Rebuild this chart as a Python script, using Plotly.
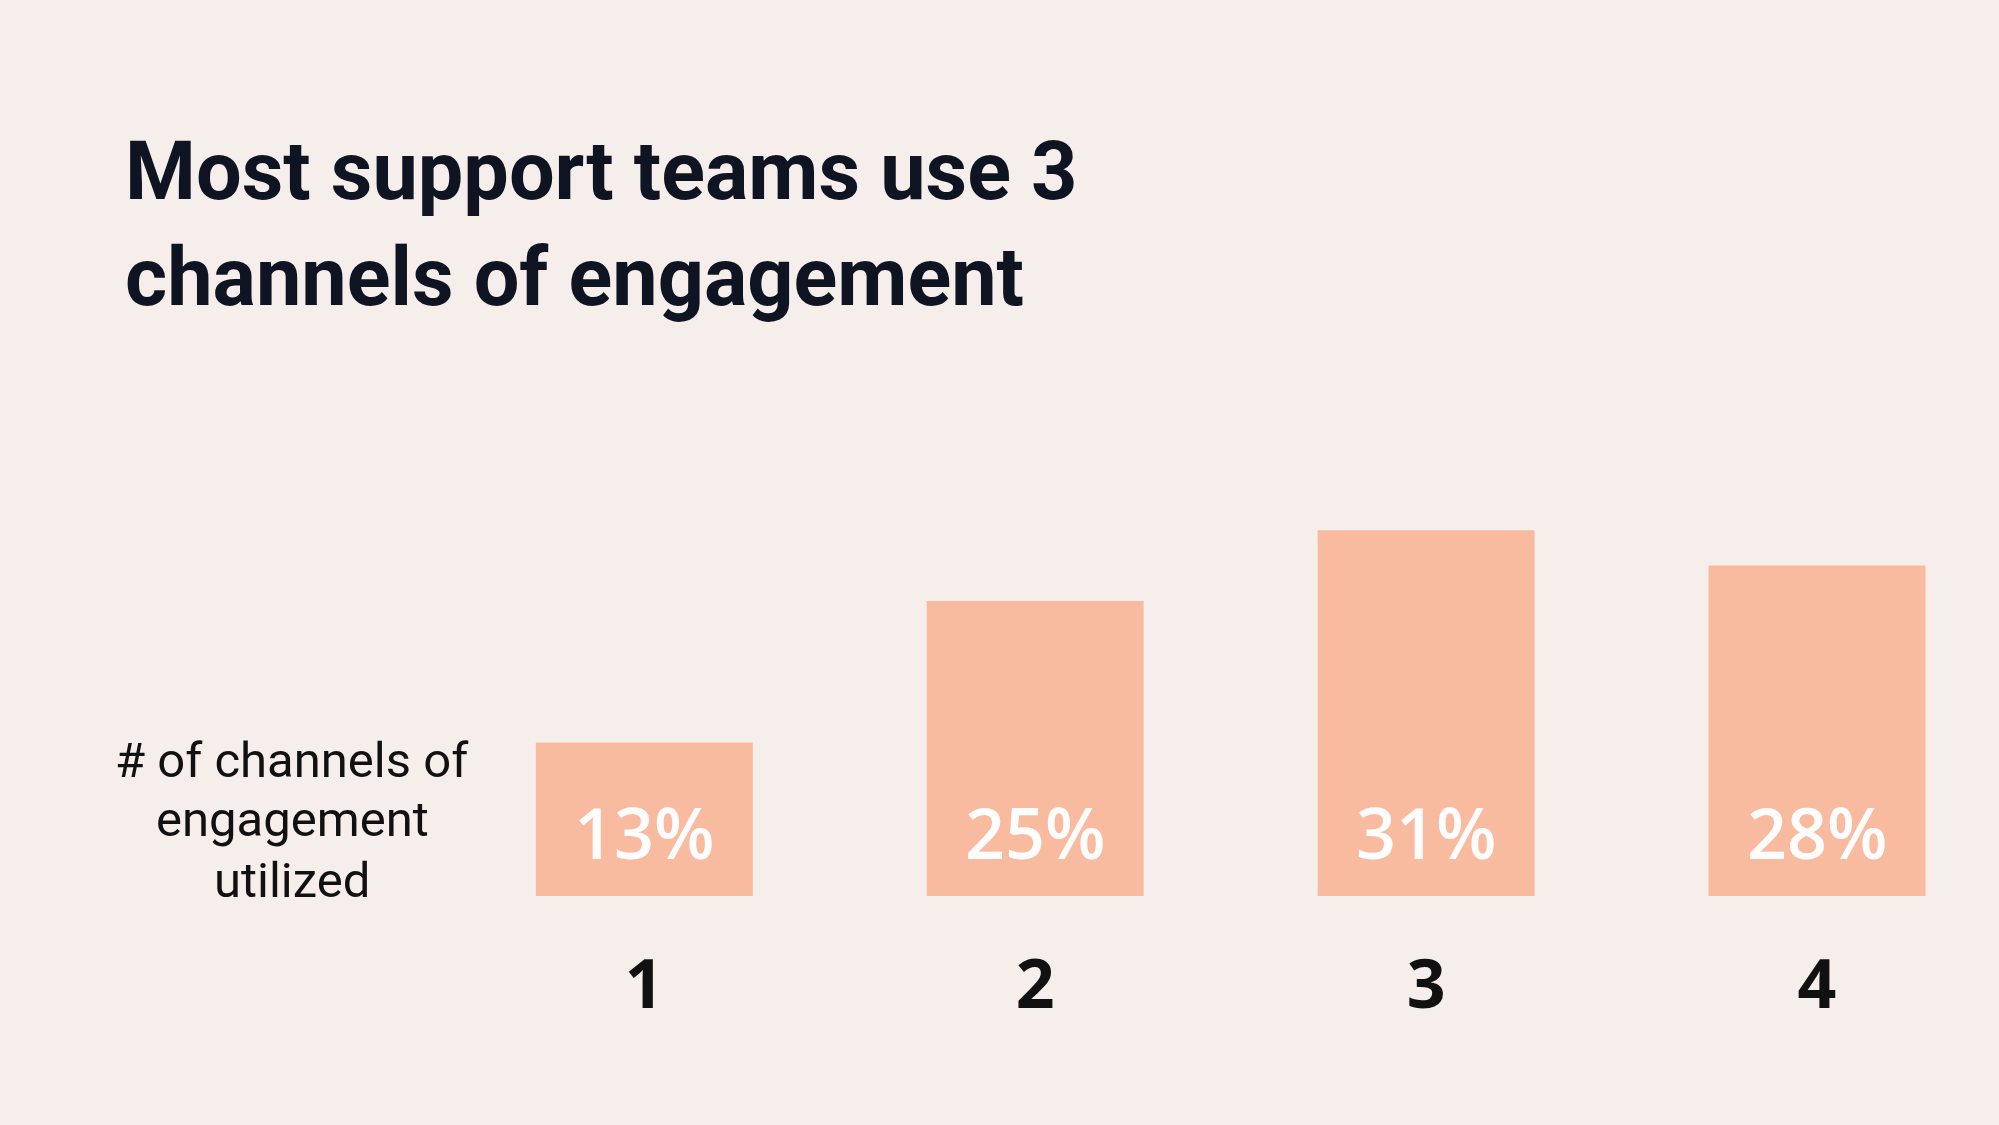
import plotly.graph_objects as go

# ---- data ----
categories = ["1", "2", "3", "4"]
values = [13, 25, 31, 28]
value_labels = ["13%", "25%", "31%", "28%"]
title_lines = ["Most support teams use 3", "channels of engagement"]
axis_title_lines = ["# of channels of", "engagement", "utilized"]

# ---- layout geometry ----
W, H = 1999, 1125
ML, MR, MT, MB = 300, 39, 300, 229
PW = W - ML - MR
PH = H - MT - MB
PX_PER_UNIT = 11.8


def px_x(px):
    return (px - ML) / PW


def px_y(py):
    return (H - MB - py) / PH


BG = "#f6eeea"
BAR = "#f9bba0"
NAVY = "#0f1422"
HEAD = "Roboto, Liberation Sans, sans-serif"

fig = go.Figure(
    go.Bar(
        x=categories,
        y=values,
        width=0.555,
        marker=dict(color=BAR, line=dict(width=0)),
        hoverinfo="skip",
    )
)

annotations = []
# value labels inside bars, near the base (x given as category index)
for i, lab in enumerate(value_labels):
    annotations.append(dict(
        x=i, y=0, xref="x", yref="y", text=lab, showarrow=False,
        xanchor="center", yanchor="bottom", yshift=14,
        font=dict(family="Open Sans, sans-serif", size=70, color="#fdfdfd", weight=600),
    ))

# title lines
for line, cy in zip(title_lines, [171, 277]):
    annotations.append(dict(
        x=px_x(123), y=px_y(cy), xref="paper", yref="paper", text=line,
        showarrow=False, xanchor="left", yanchor="middle",
        font=dict(family=HEAD, size=81, color=NAVY, weight="bold"),
    ))

# axis title lines
for line, cy in zip(axis_title_lines, [760, 819, 880]):
    annotations.append(dict(
        x=px_x(292), y=px_y(cy), xref="paper", yref="paper", text=line,
        showarrow=False, xanchor="center", yanchor="middle",
        font=dict(family=HEAD, size=49, color="#111111"),
    ))

x0 = -(1031.9 - 387.6 - ML) / 390.9
fig.update_layout(
    width=W, height=H,
    margin=dict(l=ML, r=MR, t=MT, b=MB, pad=0),
    paper_bgcolor=BG, plot_bgcolor=BG,
    showlegend=False,
    annotations=annotations,
    xaxis=dict(
        type="category",
        range=[x0, x0 + PW / 390.9],
        showgrid=False, zeroline=False, showline=False,
        ticks="", ticklabelstandoff=43,
        tickfont=dict(family="Open Sans, sans-serif", size=68, color="#111111", weight="bold"),
    ),
    yaxis=dict(
        range=[0, PH / PX_PER_UNIT],
        showgrid=False, zeroline=False, showline=False,
        showticklabels=False, ticks="",
    ),
)

fig.write_html("out.html")
